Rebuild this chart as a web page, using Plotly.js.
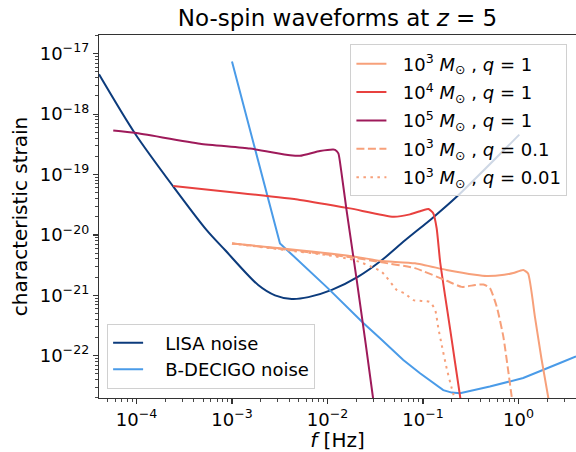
<!DOCTYPE html>
<html>
<head>
<meta charset="utf-8">
<script src="https://cdn.plot.ly/plotly-3.0.1.min.js"></script>
<style>
html,body{margin:0;padding:0;background:#fff;}
#chart{width:576px;height:452px;}
</style>
</head>
<body>
<div id="chart"></div>
<script>
// ---- data (frequency in Hz, characteristic strain) ----
const lisaF = [4.05e-5, 9.64e-5, 2.43e-4, 5.43e-4, 8.45e-4, 1.88e-3, 2.82e-3, 4.22e-3, 6.31e-3, 1.11e-2, 2.10e-2, 3.69e-2, 6.49e-2, 0.126, 0.225, 1.02];
const lisaH = [4.57e-18, 4.79e-19, 6.31e-20, 1.20e-20, 5.62e-21, 1.48e-21, 1.00e-21, 8.71e-22, 9.33e-22, 1.23e-21, 2.04e-21, 3.80e-21, 8.13e-21, 1.91e-20, 4.27e-20, 4.57e-19];

const decigoF = [1.0e-3, 3.18e-3, 1.02e-2, 2.37e-2, 3.55e-2, 6.22e-2, 9.31e-2, 0.163, 0.200, 0.244, 0.501, 1.12, 2.72, 4.0];
const decigoH = [7.41e-18, 7.24e-21, 1.29e-21, 3.47e-22, 1.95e-22, 8.51e-23, 5.13e-23, 2.69e-23, 2.45e-23, 2.40e-23, 3.09e-23, 4.27e-23, 7.59e-23, 9.77e-23];

const m5F = [5.71e-5, 9.64e-5, 4.62e-4, 1.54e-3, 4.05e-3, 5.15e-3, 8.32e-3, 1.15e-2, 1.20e-2, 1.30e-2, 1.39e-2, 1.58e-2, 2.00e-2, 2.51e-2, 3.01e-2];
const m5H = [5.37e-19, 4.90e-19, 3.24e-19, 2.69e-19, 2.09e-19, 2.04e-19, 2.45e-19, 2.60e-19, 2.57e-19, 2.24e-19, 1.17e-19, 2.63e-20, 2.04e-21, 1.58e-22, 1.91e-23];

const m4F = [2.43e-4, 1.12e-3, 5.15e-3, 1.72e-2, 4.90e-2, 7.31e-2, 0.100, 0.114, 0.128, 0.139, 0.151, 0.170, 0.192, 0.216, 0.247];
const m4H = [6.46e-20, 5.01e-20, 3.80e-20, 2.75e-20, 2.00e-20, 2.19e-20, 2.57e-20, 2.69e-20, 2.29e-20, 1.29e-20, 3.63e-21, 1.00e-21, 2.82e-22, 7.94e-23, 1.91e-23];

const m3q1F = [1.0e-3, 3.59e-3, 1.94e-2, 3.55e-2, 8.24e-2, 0.177, 0.351, 0.465, 0.708, 0.883, 1.12, 1.26, 1.49, 1.74, 2.08];
const m3q1H = [7.24e-21, 5.89e-21, 4.37e-21, 3.72e-21, 3.39e-21, 2.63e-21, 2.19e-21, 2.09e-21, 2.19e-21, 2.34e-21, 2.63e-21, 2.29e-21, 4.27e-22, 8.91e-23, 1.78e-23];

const m3q01F = [1.0e-3, 3.59e-3, 1.94e-2, 3.55e-2, 8.24e-2, 0.177, 0.254, 0.351, 0.429, 0.501, 0.592, 0.693, 0.86];
const m3q01H = [7.24e-21, 5.75e-21, 4.17e-21, 3.55e-21, 2.82e-21, 1.74e-21, 1.38e-21, 1.48e-21, 1.51e-21, 1.32e-21, 6.46e-22, 2.09e-22, 1.78e-23];

const m3q001F = [1.0e-3, 3.59e-3, 9.44e-3, 1.94e-2, 3.69e-2, 5.31e-2, 6.49e-2, 7.94e-2, 0.118, 0.134, 0.145, 0.157, 0.177, 0.200, 0.218];
const m3q001H = [7.24e-21, 5.62e-21, 4.68e-21, 3.80e-21, 2.45e-21, 1.23e-21, 1.07e-21, 8.32e-22, 7.76e-22, 5.75e-22, 2.82e-22, 1.51e-22, 6.17e-23, 2.88e-23, 1.78e-23];

const xTickVals = [1e-4, 1e-3, 1e-2, 1e-1, 1];
const xTickText = ['10<sup>−4</sup>', '10<sup>−3</sup>', '10<sup>−2</sup>', '10<sup>−1</sup>', '10<sup>0</sup>'];
const yTickVals = [1e-22, 1e-21, 1e-20, 1e-19, 1e-18, 1e-17];
const yTickText = ['10<sup>−22</sup>', '10<sup>−21</sup>', '10<sup>−20</sup>', '10<sup>−19</sup>', '10<sup>−18</sup>', '10<sup>−17</sup>'];

const seriesNames = [
  '\u00a0\u00a010<sup>3</sup> <i>M</i><sub>⊙</sub> , <i>q</i> = 1',
  '\u00a0\u00a010<sup>4</sup> <i>M</i><sub>⊙</sub> , <i>q</i> = 1',
  '\u00a0\u00a010<sup>5</sup> <i>M</i><sub>⊙</sub> , <i>q</i> = 1',
  '\u00a0\u00a010<sup>3</sup> <i>M</i><sub>⊙</sub> , <i>q</i> = 0.1',
  '\u00a0\u00a010<sup>3</sup> <i>M</i><sub>⊙</sub> , <i>q</i> = 0.01'
];
const noiseNames = ['\u00a0\u00a0\u00a0LISA noise', '\u00a0\u00a0\u00a0B-DECIGO noise'];

// minor tick positions (2..9 x 10^n)
function minorVals(lo, hi) {
  const v = [];
  for (let e = lo; e <= hi; e++) for (let k = 2; k <= 9; k++) v.push(k * Math.pow(10, e));
  return v;
}

const C_SALMON = '#f7a07a', C_RED = '#e8413f', C_MAROON = '#9e1a5a';
const C_NAVY = '#0c3b7c', C_LBLUE = '#4a9be8';
const LW = 2;

const traces = [
  {x: lisaF, y: lisaH, name: noiseNames[0], legend: 'legend2', line: {color: C_NAVY, width: LW, shape: 'spline', smoothing: 0.8}},
  {x: decigoF, y: decigoH, name: noiseNames[1], legend: 'legend2', line: {color: C_LBLUE, width: LW}},
  {x: m3q1F, y: m3q1H, name: seriesNames[0], legendgroup: 'a', line: {color: C_SALMON, width: LW, shape: 'spline', smoothing: 0.5}},
  {x: m4F, y: m4H, name: seriesNames[1], legendgroup: 'b', line: {color: C_RED, width: LW, shape: 'spline', smoothing: 0.5}},
  {x: m5F, y: m5H, name: seriesNames[2], legendgroup: 'c', line: {color: C_MAROON, width: LW, shape: 'spline', smoothing: 0.5}},
  {x: m3q01F, y: m3q01H, name: seriesNames[3], legendgroup: 'd', line: {color: C_SALMON, width: LW, dash: '8px,3.5px', shape: 'spline', smoothing: 0.5}},
  {x: m3q001F, y: m3q001H, name: seriesNames[4], legendgroup: 'e', line: {color: C_SALMON, width: LW, dash: '2.5px,4.5px', shape: 'spline', smoothing: 0.5}}
].map(t => Object.assign({type: 'scatter', mode: 'lines', cliponaxis: true}, t));

const FONT = 'DejaVu Sans, sans-serif';
const axisCommon = {
  type: 'log', showgrid: false, zeroline: false,
  showline: true, linecolor: '#333', linewidth: 1.2,
  ticks: 'outside', ticklen: 5, tickwidth: 1.2, tickcolor: '#333',
  tickmode: 'array', tickfont: {family: FONT, size: 18, color: '#000'},
  automargin: false
};

const layout = {
  width: 576, height: 452,
  margin: {l: 99, r: 0, t: 35, b: 54, pad: 0},
  paper_bgcolor: '#fff', plot_bgcolor: '#fff',
  font: {family: FONT, color: '#000'},
  title: {text: 'No-spin waveforms at <i>z</i> = 5', font: {family: FONT, size: 23, color: '#000'},
          x: 0.5, xref: 'paper', y: 1 - 18 / 452, yref: 'container', yanchor: 'middle'},
  xaxis: Object.assign({}, axisCommon, {
    range: [Math.log10(4.05e-5), Math.log10(4.0)],
    tickvals: xTickVals, ticktext: xTickText, mirror: true,
    minor: {tickvals: minorVals(-5, 0), ticks: 'outside', ticklen: 3, tickwidth: 0.9, tickcolor: '#333', showgrid: false},
    title: {text: '<i>f</i> [Hz]', font: {family: FONT, size: 20, color: '#000'}, standoff: 0}
  }),
  yaxis: Object.assign({}, axisCommon, {
    range: [-22.70, -16.69],
    tickvals: yTickVals, ticktext: yTickText,
    minor: {tickvals: minorVals(-23, -17), ticks: 'outside', ticklen: 3, tickwidth: 0.9, tickcolor: '#333', showgrid: false},
    title: {text: 'characteristic strain', font: {family: FONT, size: 20, color: '#000'}, standoff: 6}
  }),
  legend: {
    x: 0.982, y: 0.974, xanchor: 'right', yanchor: 'top',
    bgcolor: 'rgba(255,255,255,0.8)', bordercolor: '#d0d0d0', borderwidth: 1,
    font: {family: FONT, size: 18, color: '#000'}, tracegroupgap: 2, itemwidth: 30
  },
  legend2: {
    x: 0.017, y: 0.026, xanchor: 'left', yanchor: 'bottom',
    bgcolor: 'rgba(255,255,255,0.8)', bordercolor: '#d0d0d0', borderwidth: 1,
    font: {family: FONT, size: 18, color: '#000'}, tracegroupgap: 0, itemwidth: 30
  },
  showlegend: true
};

Plotly.newPlot('chart', traces, layout, {staticPlot: true, displayModeBar: false});
</script>
</body>
</html>
